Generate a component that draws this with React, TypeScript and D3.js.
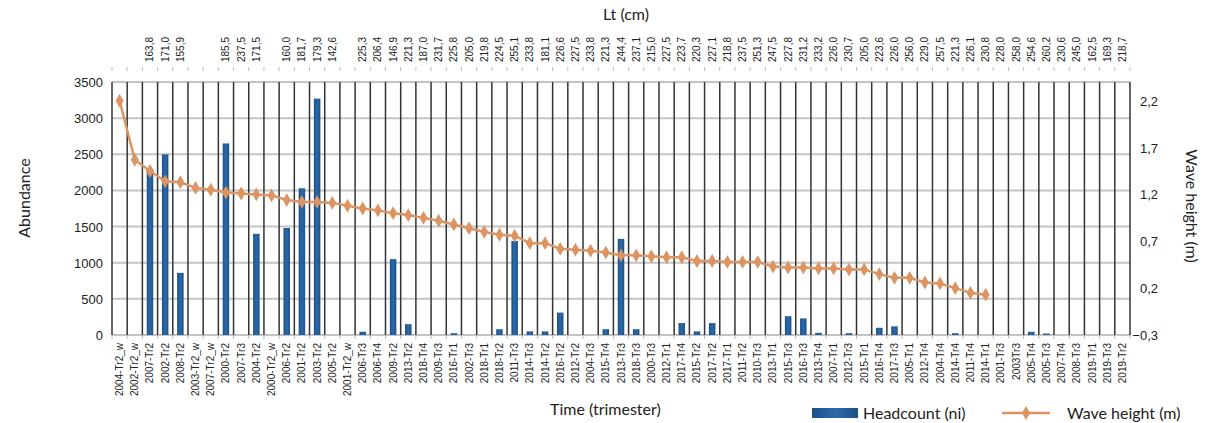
import { useEffect, useRef } from 'react';
import * as d3 from 'd3';

const categories = [
  '2004-Tr2_w', '2002-Tr2_w', '2007-Tr2', '2002-Tr2', '2008-Tr2', '2003-Tr2_w', '2007-Tr2_w', '2000-Tr2',
  '2007-Tr3', '2004-Tr2', '2000-Tr2_w', '2006-Tr2', '2001-Tr2', '2003-Tr2', '2005-Tr2', '2001-Tr2_w',
  '2006-Tr3', '2006-Tr4', '2009-Tr2', '2013-Tr2', '2018-Tr4', '2009-Tr3', '2016-Tr1', '2002-Tr3',
  '2018-Tr1', '2018-Tr2', '2011-Tr3', '2014-Tr3', '2014-Tr2', '2016-Tr2', '2012-Tr2', '2004-Tr3',
  '2015-Tr4', '2013-Tr3', '2018-Tr3', '2000-Tr3', '2012-Tr1', '2017-Tr4', '2015-Tr2', '2017-Tr2',
  '2017-Tr1', '2011-Tr2', '2010-Tr3', '2013-Tr1', '2015-Tr3', '2016-Tr3', '2013-Tr4', '2007-Tr1',
  '2012-Tr3', '2015-Tr1', '2016-Tr4', '2017-Tr3', '2005-Tr1', '2012-Tr4', '2004-Tr4', '2014-Tr4',
  '2011-Tr4', '2014-Tr1', '2001-Tr3', '2003Tr3', '2005-Tr4', '2005-Tr3', '2007-Tr4', '2008-Tr3',
  '2019-Tr1', '2019-Tr3', '2019-Tr2',
];

const ltLabels = [
  '', '', '163,8', '171,0', '155,9', '', '', '185,5',
  '237,5', '171,5', '', '160,0', '181,7', '179,3', '142,6', '',
  '225,3', '206,4', '146,9', '221,3', '187,0', '231,7', '225,8', '205,0',
  '219,8', '224,5', '255,1', '233,8', '181,1', '226,6', '227,5', '233,8',
  '221,3', '244,4', '237,1', '215,0', '227,5', '223,7', '220,3', '227,1',
  '218,8', '237,5', '251,3', '247,5', '227,8', '231,2', '233,2', '226,0',
  '230,7', '205,0', '223,6', '226,0', '256,0', '229,0', '257,5', '221,3',
  '226,1', '230,8', '228,0', '258,0', '254,6', '260,2', '230,6', '245,0',
  '162,5', '169,3', '218,7',
];

const headcount = [
  0, 0, 2280, 2500, 860, 0, 0, 2650,
  0, 1400, 0, 1480, 2030, 3270, 0, 0,
  45, 0, 1050, 150, 0, 0, 25, 0,
  0, 80, 1300, 50, 50, 310, 0, 0,
  80, 1330, 80, 0, 0, 165, 50, 165,
  0, 0, 0, 0, 260, 230, 30, 0,
  25, 0, 100, 120, 0, 0, 0, 25,
  0, 0, 0, 0, 45, 20, 0, 0,
  0, 0, 0,
];

const waveHeight: (number | null)[] = [
  2.2, 1.57, 1.45, 1.34, 1.33, 1.27, 1.25, 1.22,
  1.21, 1.2, 1.19, 1.14, 1.12, 1.12, 1.11, 1.08,
  1.05, 1.03, 1.0, 0.98, 0.95, 0.92, 0.88, 0.84,
  0.8, 0.77, 0.76, 0.68, 0.68, 0.62, 0.61, 0.6,
  0.58, 0.55, 0.55, 0.54, 0.53, 0.53, 0.49, 0.49,
  0.48, 0.48, 0.48, 0.43, 0.42, 0.42, 0.41, 0.41,
  0.4, 0.4, 0.35, 0.31, 0.31, 0.26, 0.25, 0.2,
  0.15, 0.13, null, null, null, null, null, null,
  null, null, null,
];

const abundanceTicks = [0, 500, 1000, 1500, 2000, 2500, 3000, 3500];
const waveTicks = [-0.3, 0.2, 0.7, 1.2, 1.7, 2.2];

export default function App() {
  const ref = useRef<SVGSVGElement | null>(null);

  useEffect(() => {
    const svg = d3.select(ref.current);
    svg.selectAll('*').remove();

    const W = 1217, H = 423;
    const left = 112, right = 1130, top = 82, bottom = 335;
    const font = '"Liberation Sans", Arial, sans-serif';
    const titleFont = 'Lato, "Open Sans", sans-serif';
    const orange = '#dc9463';

    svg.attr('width', W).attr('height', H);
    svg.append('rect').attr('width', W).attr('height', H).attr('fill', '#fff');

    const defs = svg.append('defs');
    const grad = defs.append('linearGradient').attr('id', 'barGrad').attr('x1', 0).attr('x2', 1).attr('y1', 0).attr('y2', 0);
    grad.append('stop').attr('offset', '0%').attr('stop-color', '#1b5088');
    grad.append('stop').attr('offset', '50%').attr('stop-color', '#2c6aa8');
    grad.append('stop').attr('offset', '100%').attr('stop-color', '#1b5088');

    const x = d3.scaleBand<string>().domain(categories).range([left, right]).padding(0);
    const y = d3.scaleLinear().domain([0, 3500]).range([bottom, top]);
    const y2 = d3.scaleLinear().domain([-0.3, 2.4]).range([bottom, top]);
    const cx = (c: string) => x(c)! + x.bandwidth() / 2;

    // horizontal grid
    svg.append('g')
      .selectAll('line')
      .data(abundanceTicks)
      .join('line')
      .attr('x1', left).attr('x2', right)
      .attr('y1', d => y(d)).attr('y2', d => y(d))
      .attr('stroke', '#c4c4c4').attr('stroke-width', 2);

    // vertical category separators
    const bounds = categories.map(c => x(c)!).concat([right]);
    svg.append('g')
      .selectAll('line')
      .data(bounds)
      .join('line')
      .attr('x1', d => d).attr('x2', d => d)
      .attr('y1', top).attr('y2', bottom)
      .attr('stroke', '#333').attr('stroke-width', 1.5);

    // top tick marks
    svg.append('g')
      .selectAll('line')
      .data(bounds)
      .join('line')
      .attr('x1', d => d).attr('x2', d => d)
      .attr('y1', 67).attr('y2', 71)
      .attr('stroke', '#bdbdbd').attr('stroke-width', 1);

    // bottom tick marks
    svg.append('g')
      .selectAll('line')
      .data(bounds)
      .join('line')
      .attr('x1', d => d).attr('x2', d => d)
      .attr('y1', bottom).attr('y2', bottom + 4)
      .attr('stroke', '#bdbdbd').attr('stroke-width', 1);

    // bars
    const bw = 6.5;
    svg.append('g')
      .selectAll('rect')
      .data(categories.map((c, i) => ({ c, v: headcount[i] })).filter(d => d.v > 0))
      .join('rect')
      .attr('x', d => cx(d.c) - bw / 2)
      .attr('y', d => y(d.v))
      .attr('width', bw)
      .attr('height', d => bottom - y(d.v))
      .attr('fill', 'url(#barGrad)');

    // wave height line
    const pts = categories
      .map((c, i) => ({ c, v: waveHeight[i] }))
      .filter(d => d.v !== null) as { c: string; v: number }[];
    const line = d3.line<{ c: string; v: number }>()
      .x(d => cx(d.c))
      .y(d => y2(d.v));
    svg.append('path')
      .datum(pts)
      .attr('fill', 'none')
      .attr('stroke', orange)
      .attr('stroke-width', 2.5)
      .attr('d', line);
    const diamond = d3.symbol().type(d3.symbolDiamond).size(55);
    svg.append('g')
      .selectAll('path')
      .data(pts)
      .join('path')
      .attr('transform', d => `translate(${cx(d.c)},${y2(d.v)})`)
      .attr('d', diamond)
      .attr('fill', orange);

    // left axis labels
    svg.append('g')
      .selectAll('text')
      .data(abundanceTicks)
      .join('text')
      .attr('x', 103).attr('y', d => y(d) + 5)
      .attr('text-anchor', 'end')
      .attr('font-family', font).attr('font-size', 13).attr('fill', '#222')
      .text(d => String(d));

    // right axis labels
    svg.append('g')
      .selectAll('text')
      .data(waveTicks)
      .join('text')
      .attr('x', 1158).attr('y', d => y2(d) + 5)
      .attr('text-anchor', 'end')
      .attr('font-family', font).attr('font-size', 13).attr('fill', '#222')
      .text(d => d3.format('.1f')(d).replace('.', ','));

    // bottom category labels
    svg.append('g')
      .selectAll('text')
      .data(categories)
      .join('text')
      .attr('transform', d => `translate(${cx(d) + 3.5},343) rotate(-90)`)
      .attr('text-anchor', 'end')
      .attr('font-family', font).attr('font-size', 10).attr('fill', '#222')
      .text(d => d);

    // top Lt labels
    svg.append('g')
      .selectAll('text')
      .data(categories.map((c, i) => ({ c, t: ltLabels[i] })).filter(d => d.t !== ''))
      .join('text')
      .attr('transform', d => `translate(${cx(d.c) + 3.5},62) rotate(-90)`)
      .attr('text-anchor', 'start')
      .attr('font-family', font).attr('font-size', 10).attr('fill', '#222')
      .text(d => d.t);

    // titles
    svg.append('text')
      .attr('x', 626).attr('y', 20)
      .attr('text-anchor', 'middle')
      .attr('font-family', titleFont).attr('font-size', 16).attr('fill', '#222')
      .text('Lt (cm)');
    svg.append('text')
      .attr('transform', 'translate(30,198) rotate(-90)')
      .attr('text-anchor', 'middle')
      .attr('font-family', titleFont).attr('font-size', 16).attr('fill', '#222')
      .text('Abundance');
    svg.append('text')
      .attr('transform', 'translate(1186,206) rotate(90)')
      .attr('text-anchor', 'middle')
      .attr('font-family', titleFont).attr('font-size', 16).attr('fill', '#222')
      .text('Wave height (m)');
    svg.append('text')
      .attr('x', 550).attr('y', 415)
      .attr('font-family', titleFont).attr('font-size', 16).attr('fill', '#222')
      .text('Time (trimester)');

    // legend
    svg.append('rect')
      .attr('x', 812).attr('y', 408).attr('width', 46).attr('height', 10)
      .attr('fill', 'url(#barGrad)');
    svg.append('text')
      .attr('x', 863).attr('y', 419)
      .attr('font-family', titleFont).attr('font-size', 16).attr('fill', '#222')
      .text('Headcount (ni)');
    svg.append('line')
      .attr('x1', 1002).attr('x2', 1050).attr('y1', 413).attr('y2', 413)
      .attr('stroke', orange).attr('stroke-width', 2.5);
    svg.append('path')
      .attr('transform', 'translate(1026,413)')
      .attr('d', diamond)
      .attr('fill', orange);
    svg.append('text')
      .attr('x', 1067).attr('y', 419)
      .attr('font-family', titleFont).attr('font-size', 16).attr('fill', '#222')
      .text('Wave height  (m)');
  }, []);

  return (
    <div style={{ position: 'absolute', left: 0, top: 0 }}>
      <svg ref={ref} style={{ display: 'block' }} />
    </div>
  );
}
